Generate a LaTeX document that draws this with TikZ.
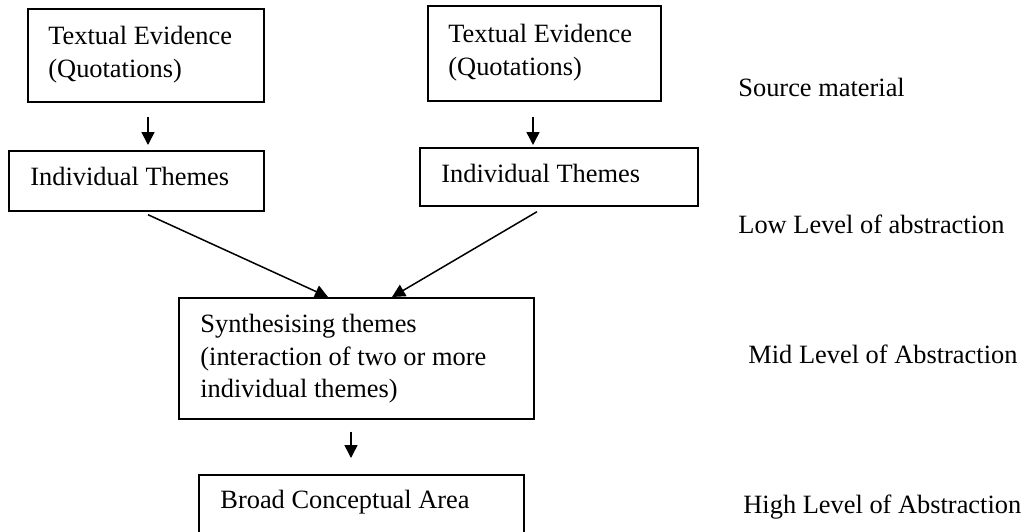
\documentclass[tikz,border=0pt]{standalone}
\usepackage{fontspec}
\setmainfont{Liberation Serif}
\usetikzlibrary{arrows.meta}
\begin{document}
\begin{tikzpicture}[x=0.5pt,y=-0.5pt,
  box/.style={draw, line width=0.85pt, rectangle, inner sep=0pt, anchor=north west},
  txt/.style={anchor=base west, inner sep=0pt, font=\fontsize{13.2pt}{16pt}\selectfont},
  arr/.style={line width=0.75pt, -{Triangle[length=6.5pt,width=6.5pt]}}]
\useasboundingbox (0,0) rectangle (1023,531);
\clip (0,0) rectangle (1023,531);

% boxes
\node[box, minimum width=118pt,   minimum height=46.5pt] (te1) at (27,8) {};
\node[box, minimum width=116.5pt, minimum height=47.5pt] (te2) at (427,5) {};
\node[box, minimum width=127.5pt, minimum height=30pt]   (it1) at (8,150) {};
\node[box, minimum width=139pt,   minimum height=29pt]   (it2) at (419,147) {};
\node[box, minimum width=177.5pt, minimum height=60.5pt] (syn) at (178,297) {};
\node[box, minimum width=162.5pt, minimum height=45pt]   (bro) at (198,474) {};

% box texts
\node[txt] (te1a) at (48,44) {Textual Evidence};
\node[txt] (te1b) at (48,77) {(Quotations)};
\node[txt] (te2a) at (448,42) {Textual Evidence};
\node[txt] (te2b) at (448,75) {(Quotations)};
\node[txt] (it1t) at (30,185) {Individual Themes};
\node[txt] (it2t) at (441,182) {Individual Themes};
\node[txt] (syna) at (200,332) {Synthesising themes};
\node[txt] (synb) at (200,365) {(interaction of two or more};
\node[txt] (sync) at (200,397) {individual themes)};
\node[txt] (brot) at (220,508) {Broad Conceptual Area};

% level labels
\node[txt] (lsrc)  at (738,96)  {Source material};
\node[txt] (llow)  at (738,233) {Low Level of abstraction};
\node[txt] (lmid)  at (748,363) {Mid Level of Abstraction};
\node[txt] (lhigh) at (743,513) {High Level of Abstraction};

% connectors
\draw[arr] ([shift={(121,14)}]te1.south west) -- ([shift={(140,-5)}]it1.north west);
\draw[arr] ([shift={(106,15)}]te2.south west) -- ([shift={(114,-2)}]it2.north west);
\draw[arr] ([shift={(140,3)}]it1.south west) -- ([shift={(150,0)}]syn.north west);
\draw[arr] ([shift={(118,5)}]it2.south west) -- ([shift={(214,0)}]syn.north west);
\draw[arr] ([shift={(173,12)}]syn.south west) -- ([shift={(153,-16)}]bro.north west);
\end{tikzpicture}
\end{document}
